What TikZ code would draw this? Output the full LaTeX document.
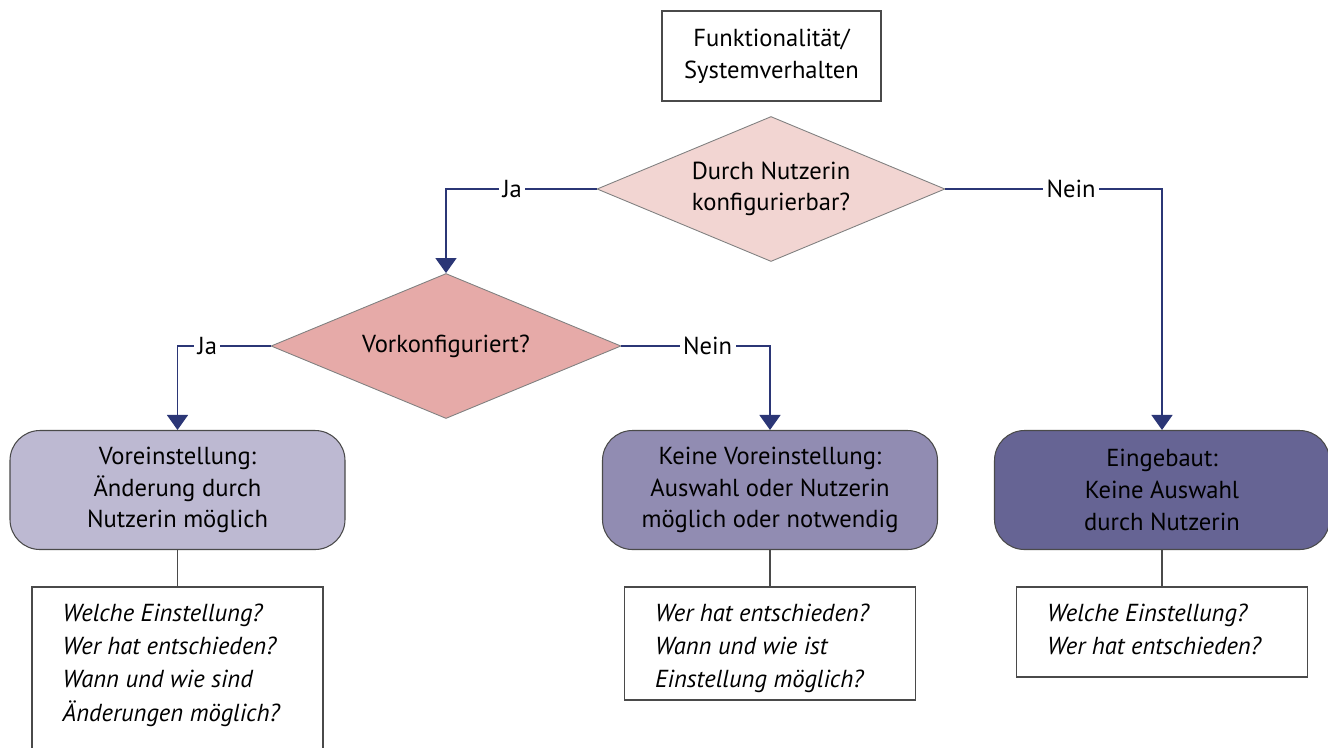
\documentclass[tikz,border=0pt]{standalone}
\usepackage{fontspec}
\setmainfont{PT Sans}
\usepackage{xcolor}
\usepackage{tikz}
\usetikzlibrary{shapes.geometric,arrows.meta}
\definecolor{rand}{HTML}{4A4A4A}
\definecolor{pfeilblau}{HTML}{2B3676}
\definecolor{rosa}{HTML}{F2D5D2}
\definecolor{altrosa}{HTML}{E6AAA8}
\definecolor{lila}{HTML}{BDB9D2}
\definecolor{mittellila}{HTML}{918CB2}
\definecolor{dunkellila}{HTML}{666494}
\tikzset{
  frage/.style={diamond, shape aspect=2.4, draw=rand!70, line width=0.5pt, inner sep=0pt,
    minimum width=6.96cm, minimum height=2.9cm, align=center, font=\fontsize{14}{18}\selectfont},
  ergebnis/.style={rectangle, rounded corners=0.6cm, draw=rand, line width=0.6pt,
    minimum width=6.7cm, minimum height=2.38cm, align=center, font=\fontsize{14}{18}\selectfont},
  hinweis/.style={rectangle, draw=rand, line width=0.6pt, fill=white, minimum width=5.82cm},
  frage text/.style={align=left, font=\fontsize{14}{19}\selectfont\itshape},
  pfeil/.style={draw=pfeilblau, line width=0.8pt, -{Triangle[width=0.42cm,length=0.3cm]}},
  marke/.style={fill=white, inner sep=2pt, font=\fontsize{14}{16}\selectfont}
}

\begin{document}
\begin{tikzpicture}
        \useasboundingbox (0,0) rectangle (26.56,-14.94);
        \node[draw=rand, line width=0.6pt, minimum width=4.38cm, minimum height=1.8cm,
              align=center, font=\fontsize{14}{18}\selectfont] (start) at (15.43,-1.12)
              {Funktionalität/\\Systemverhalten};
        \node[frage, fill=rosa] (nutzerin) at (15.42,-3.78) {Durch Nutzerin\\konfigurierbar?};
        \node[frage, fill=altrosa, minimum width=7cm] (vorkonf) at (8.92,-6.92) {Vorkonfiguriert?};
        \node[ergebnis, fill=lila] (voreinst) at (3.55,-9.8)
              {Voreinstellung:\\Änderung durch\\Nutzerin möglich};
        \node[ergebnis, fill=mittellila] (keinevor) at (15.4,-9.8)
              {Keine Voreinstellung:\\Auswahl oder Nutzerin\\möglich oder notwendig};
        \node[ergebnis, fill=dunkellila] (eingebaut) at (23.24,-9.8)
              {Eingebaut:\\Keine Auswahl\\durch Nutzerin};
        % Fragenkaesten
        \node[hinweis, minimum height=3.6cm] (fragenA) at (3.55,-13.54) {};
        \node[frage text, anchor=north west] at (fragenA.north west) [xshift=0.5cm, yshift=-0.22cm]
              {Welche Einstellung?\\Wer hat entschieden?\\Wann und wie sind\\Änderungen möglich?};
        \node[hinweis, minimum height=2.26cm] (fragenB) at (15.4,-12.87) {};
        \node[frage text, anchor=north west] at (fragenB.north west) [xshift=0.5cm, yshift=-0.22cm]
              {Wer hat entschieden?\\Wann und wie ist\\Einstellung möglich?};
        \node[hinweis, minimum height=1.8cm] (fragenC) at (23.24,-12.64) {};
        \node[frage text, anchor=north west] at (fragenC.north west) [xshift=0.5cm, yshift=-0.22cm]
              {Welche Einstellung?\\Wer hat entschieden?};
        % Pfeile
        \draw[pfeil] (nutzerin.west) -| node[marke, pos=0.28] {Ja} (vorkonf.north);
        \draw[pfeil] (nutzerin.east) -| node[marke, pos=0.29] {Nein} (eingebaut.north);
        \draw[pfeil] (vorkonf.west) -| node[marke, pos=0.34] {Ja} (voreinst.north);
        \draw[pfeil] (vorkonf.east) -| node[marke, pos=0.29] {Nein} (keinevor.north);
        % Verbindungen zu den Fragen
        \draw[rand, line width=0.6pt] (voreinst.south) -- (fragenA.north);
        \draw[rand, line width=0.6pt] (keinevor.south) -- (fragenB.north);
        \draw[rand, line width=0.6pt] (eingebaut.south) -- (fragenC.north);
      \end{tikzpicture}
\end{document}
